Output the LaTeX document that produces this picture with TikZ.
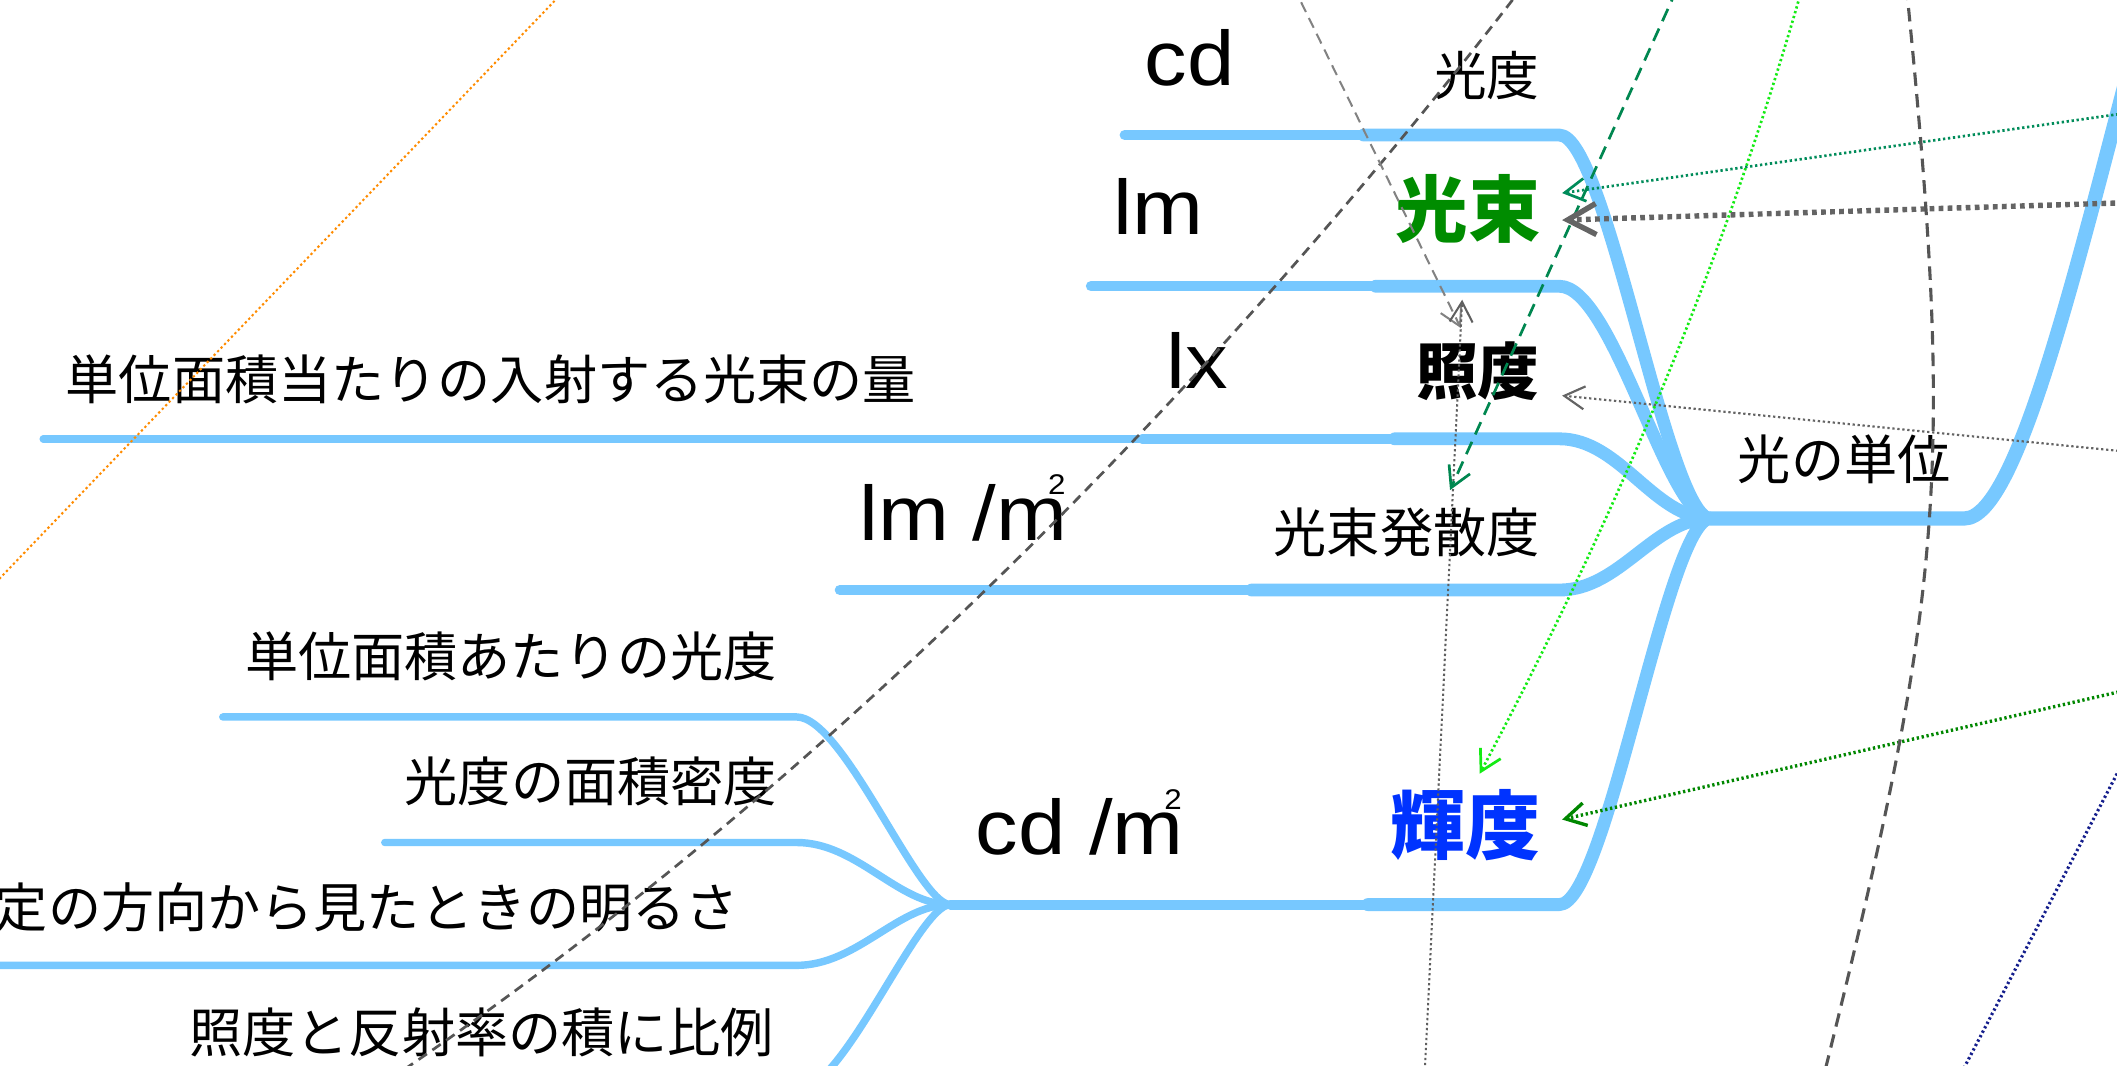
\documentclass[tikz,border=0pt]{standalone}
\usepackage{fontspec}
\setmainfont{Liberation Sans}
\newfontfamily\unitfont{Liberation Sans}[FakeStretch=1.1]
\newfontfamily\jpfont{Noto Sans CJK JP}
\usetikzlibrary{arrows.meta}
\definecolor{branch}{RGB}{119,200,255}
\definecolor{kgreen}{RGB}{0,140,0}
\definecolor{kblue}{RGB}{0,51,255}
\definecolor{corange}{RGB}{255,140,0}
\definecolor{cdark}{RGB}{85,85,85}
\definecolor{clight}{RGB}{130,130,130}
\definecolor{cvdot}{RGB}{95,95,95}
\definecolor{cgdash}{RGB}{0,135,80}
\definecolor{clime}{RGB}{20,235,20}
\definecolor{cteal}{RGB}{0,140,90}
\definecolor{cgray}{RGB}{100,100,100}
\definecolor{cdgreen}{RGB}{0,135,0}
\definecolor{cnavy}{RGB}{20,30,140}
\newcommand{\myM}{m\llap{\raisebox{9.6pt}{\fontsize{6}{6}\selectfont 2}\kern0.4pt}}
\begin{document}
\begin{tikzpicture}[x=0.1mm,y=-0.1mm,line join=round,
  br0/.style={draw=branch,line width=1.05mm,line cap=round},
  br1/.style={draw=branch,line width=0.95mm,line cap=round},
  br2/.style={draw=branch,line width=0.75mm,line cap=round},
  br3/.style={draw=branch,line width=0.55mm,line cap=round},
  unit/.style={font=\unitfont\fontsize{16.3}{18}\selectfont,inner sep=0,anchor=base west},
  jtext/.style={font=\jpfont\fontsize{11.2}{13}\selectfont,inner sep=0},
  tipS/.style={-{Straight Barb[length=1.5mm,width=1.7mm]}},
  tipL/.style={-{Straight Barb[length=2.1mm,width=2.3mm]}},
  dotln/.style={line cap=butt,dash pattern=on 0.17mm off 0.2mm}
]
\useasboundingbox (0,0) rectangle (1568,789);
\clip (0,0) rectangle (1568,789);
\fill[white] (0,0) rectangle (1568,789);

% ---- coordinates of the mind map ----
\coordinate (J) at (1267,384);
\coordinate (rootR) at (1455,384);
\coordinate (rootP) at (1590,0);
\coordinate (cdL) at (833,100);
\coordinate (kodoL) at (1010,100);
\coordinate (kodoR) at (1155,100);
\coordinate (lmL) at (808,212);
\coordinate (kosokuL) at (1019,212);
\coordinate (kosokuR) at (1155,212);
\coordinate (d1L) at (32,325);
\coordinate (lxL) at (846,325);
\coordinate (shodoL) at (1033,325);
\coordinate (shodoR) at (1155,325);
\coordinate (lmmL) at (622,437);
\coordinate (hassanL) at (927,437);
\coordinate (hassanR) at (1155,437);
\coordinate (J2) at (704,670);
\coordinate (kidoL) at (1013,670);
\coordinate (kidoR) at (1155,670);
\coordinate (c1L) at (165,531); \coordinate (c1R) at (590,531);
\coordinate (c2L) at (285,624); \coordinate (c2R) at (590,624);
\coordinate (c3L) at (-20,715); \coordinate (c3R) at (590,715);
\coordinate (c4L) at (143,808); \coordinate (c4R) at (590,808);

% ---- branches ----
\draw[br0] (J) -- (rootR) .. controls +(40,0) and +(-50,190) .. (rootP);
\draw[br2] (cdL) -- (kodoL);
\draw[br2] (lmL) -- (kosokuL);
\draw[br3] (d1L) -- (lxL);
\draw[br2] (lxL) -- (shodoL);
\draw[br2] (lmmL) -- (hassanL);
\draw[br2] (J2) -- (kidoL);
\draw[br1] (kodoL) -- (kodoR) .. controls +(35,0) and +(-32,0) .. (J);
\draw[br1] (kosokuL) -- (kosokuR) .. controls +(40,0) and +(-32,0) .. (J);
\draw[br1] (shodoL) -- (shodoR) .. controls +(45,0) and +(-42,0) .. (J);
\draw[br1] (hassanL) -- (hassanR) .. controls +(45,0) and +(-42,0) .. (J);
\draw[br1] (kidoL) -- (kidoR) .. controls +(35,0) and +(-32,0) .. (J);
\draw[br3] (c1L) -- (c1R) .. controls +(35,0) and +(-24,0) .. (J2);
\draw[br3] (c2L) -- (c2R) .. controls +(45,0) and +(-39,0) .. (J2);
\draw[br3] (c3L) -- (c3R) .. controls +(45,0) and +(-39,0) .. (J2);
\draw[br3] (c4L) -- (c4R) .. controls +(35,0) and +(-24,0) .. (J2);

% ---- texts ----
\node[jtext,anchor=center] (root) at (1366,340) {光の単位};
\node[jtext,anchor=east,font=\jpfont\fontsize{11.1}{13}\selectfont] (kodo) at (1141,56) {光度};
\node[jtext,anchor=east,font=\jpfont\bfseries\fontsize{15.3}{17}\selectfont,text=kgreen] (kosoku) at (1142,155) {光束};
\node[jtext,anchor=east,font=\jpfont\bfseries\fontsize{13}{15}\selectfont] (shodo) at (1141,275) {照度};
\node[jtext,anchor=east] (hassan) at (1141,394) {光束発散度};
\node[jtext,anchor=east,font=\jpfont\bfseries\fontsize{15.8}{18}\selectfont,text=kblue] (kido) at (1142,611) {輝度};
\node[jtext,anchor=west] (d1) at (48,281) {単位面積当たりの入射する光束の量};
\node[jtext,anchor=east] (d2) at (576,486) {単位面積あたりの光度};
\node[jtext,anchor=east] (d3) at (576,579) {光度の面積密度};
\node[jtext,anchor=east] (d4) at (548,672) {定の方向から見たときの明るさ};
\node[jtext,anchor=east] (d5) at (574,765) {照度と反射率の積に比例};
\node[unit] (cd) at (847,63) {cd};
\node[unit] (lm) at (824,174) {lm};
\node[unit] (lx) at (863,288) {lx};
\node[unit] (lmm) at (636,400) {lm /\myM};
\node[unit] (cdm) at (722,633) {cd /\myM};

% ---- connector end points ----
\coordinate (oA) at (421,-10);
\coordinate (oB) at (-20,449);
\coordinate (gA) at (1128,-10);
\coordinate (gB) at (301,791);
\coordinate (lgA) at (958,-10);
\coordinate (tShodoTop) at (1082,243);
\coordinate (vA) at (1055,800);
\coordinate (tShodoUp) at (1083,222);
\coordinate (gdA) at (1242,-8);
\coordinate (tHassan) at (1074,363);
\coordinate (liA) at (1334,-6);
\coordinate (tKido) at (1096,573);
\coordinate (teA) at (1580,83);
\coordinate (tKosoku1) at (1157,143);
\coordinate (tgA) at (1580,150);
\coordinate (tKosoku2) at (1157,163);
\coordinate (thA) at (1580,335);
\coordinate (tShodoR) at (1157,293);
\coordinate (dgA) at (1580,510);
\coordinate (tKidoR) at (1157,607);
\coordinate (rdA) at (1412,-10);
\coordinate (rdB) at (1350,800);
\coordinate (nvA) at (1580,550);
\coordinate (nvB) at (1450,800);

% ---- connectors ----
\draw[corange,line width=0.15mm,dotln] (oA) -- (oB);
\draw[cdark,line width=0.2mm,dash pattern=on 0.75mm off 0.5mm] (gA) .. controls (938,236) and (652,551) .. (gB);
\draw[clight,line width=0.15mm,dash pattern=on 0.8mm off 0.5mm,tipS] (lgA) -- (tShodoTop);
\draw[cvdot,line width=0.15mm,dotln,tipS] (vA) -- (tShodoUp);
\draw[cgdash,line width=0.2mm,dash pattern=on 1mm off 0.6mm,tipS] (gdA) -- (tHassan);
\draw[clime,line width=0.2mm,dotln,tipS] (liA) .. controls (1278,190) and (1197,383) .. (tKido);
\draw[cteal,line width=0.2mm,dotln,tipS] (teA) -- (tKosoku1);
\draw[cgray,line width=0.4mm,line cap=butt,dash pattern=on 0.35mm off 0.32mm,tipL] (tgA) -- (tKosoku2);
\draw[cgray,line width=0.16mm,dotln,tipS] (thA) -- (tShodoR);
\draw[cdgreen,line width=0.25mm,dotln,tipS] (dgA) -- (tKidoR);
\draw[cdark,line width=0.23mm,dash pattern=on 1mm off 0.6mm] (rdA) .. controls (1448,350) and (1440,439) .. (rdB);
\draw[cnavy,line width=0.23mm,dotln] (nvA) -- (nvB);
\end{tikzpicture}
\end{document}
